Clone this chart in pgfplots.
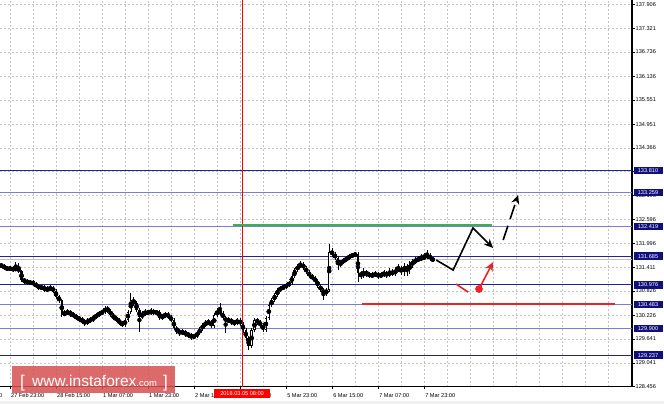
\documentclass[border=0pt]{standalone}
\usepackage{fontspec}
\setmainfont{Liberation Sans}
\usepackage{pgfplots}
\pgfplotsset{compat=1.18}
\usepackage{pgfplotstable}
\usetikzlibrary{arrows.meta}
\definecolor{navyline}{RGB}{35,35,150}
\definecolor{navylight}{RGB}{125,125,205}
\definecolor{navybox}{RGB}{15,15,125}
\definecolor{gridc}{RGB}{195,195,195}
\definecolor{mtgreen}{RGB}{60,175,80}
\definecolor{mtred}{RGB}{235,35,35}
\definecolor{wm}{RGB}{215,80,80}
\definecolor{bidc}{RGB}{192,192,192}

\pgfplotstableread{
k o h l c
1 131.466 131.516 131.392 131.441
2 131.441 131.491 131.342 131.392
3 131.392 131.441 131.318 131.367
4 131.367 131.441 131.318 131.392
5 131.392 131.441 131.293 131.342
6 131.342 131.540 131.318 131.392
7 131.392 131.516 131.268 131.318
8 131.318 131.342 131.045 131.095
9 131.095 131.144 130.996 131.070
10 131.070 131.120 130.971 131.021
11 131.021 131.095 130.971 131.045
12 131.045 131.095 130.946 130.996
13 130.996 131.045 130.897 130.946
14 130.946 130.996 130.848 130.897
15 130.897 130.971 130.848 130.922
16 130.922 130.971 130.798 130.848
17 130.848 130.946 130.798 130.872
18 130.872 130.971 130.823 130.897
19 130.897 130.946 130.773 130.823
20 130.823 130.872 130.625 130.674
21 130.674 130.724 130.526 130.600
22 130.600 130.625 130.180 130.229
23 130.229 130.353 130.204 130.279
24 130.279 130.378 130.229 130.303
25 130.303 130.353 130.180 130.254
26 130.254 130.303 130.155 130.204
27 130.204 130.254 130.105 130.155
28 130.155 130.204 130.056 130.130
29 130.130 130.180 130.006 130.081
30 130.081 130.130 129.957 130.031
31 130.031 130.155 129.982 130.105
32 130.105 130.180 130.031 130.110
33 130.110 130.229 130.056 130.180
34 130.180 130.279 130.130 130.229
35 130.229 130.328 130.180 130.279
36 130.279 130.353 130.229 130.303
37 130.303 130.452 130.254 130.402
38 130.402 130.452 130.279 130.328
39 130.328 130.378 130.180 130.229
40 130.229 130.279 130.105 130.155
41 130.155 130.204 130.056 130.105
42 130.105 130.155 129.982 130.031
43 130.031 130.081 129.932 129.982
44 129.982 130.155 129.932 130.105
45 130.105 130.353 130.056 130.303
46 130.303 130.773 130.254 130.600
47 130.600 130.674 130.452 130.526
48 130.526 130.575 130.303 130.353
49 130.353 130.402 129.808 130.180
50 130.180 130.328 130.130 130.254
51 130.254 130.378 130.204 130.303
52 130.303 130.353 130.229 130.279
53 130.279 130.402 130.229 130.328
54 130.328 130.378 130.229 130.279
55 130.279 130.353 130.229 130.303
56 130.303 130.353 130.105 130.155
57 130.155 130.254 130.105 130.204
58 130.204 130.303 130.155 130.254
59 130.254 130.303 130.130 130.180
60 130.180 130.229 130.056 130.105
61 130.105 130.155 129.858 129.907
62 129.907 129.957 129.759 129.833
63 129.833 129.883 129.709 129.784
64 129.784 129.883 129.734 129.808
65 129.808 129.858 129.685 129.759
66 129.759 129.808 129.660 129.734
67 129.734 129.784 129.611 129.685
68 129.685 129.759 129.635 129.709
69 129.709 129.833 129.660 129.784
70 129.784 129.932 129.734 129.883
71 129.883 130.031 129.833 129.982
72 129.982 130.105 129.932 130.031
73 130.031 130.130 129.982 130.056
74 130.056 130.105 129.907 129.957
75 129.957 130.279 129.907 130.229
76 130.229 130.402 130.180 130.328
77 130.328 130.526 130.229 130.279
78 130.279 130.328 130.105 130.155
79 130.155 130.204 129.784 130.081
80 130.081 130.180 130.031 130.105
81 130.105 130.155 129.982 130.056
82 130.056 130.105 129.957 130.031
83 130.031 130.155 129.982 130.105
84 130.105 130.155 129.957 130.006
85 130.006 130.056 129.784 129.858
86 129.858 129.907 129.586 129.660
87 129.660 129.709 129.363 129.462
88 129.462 129.907 129.413 129.858
89 129.858 130.155 129.808 130.105
90 130.105 130.155 129.982 130.056
91 130.056 130.105 129.907 129.982
92 129.982 130.031 129.808 129.858
93 129.858 130.204 129.808 130.155
94 130.155 130.526 130.105 130.477
95 130.477 130.650 130.427 130.600
96 130.600 130.773 130.551 130.724
97 130.724 130.897 130.674 130.848
98 130.848 130.946 130.798 130.897
99 130.897 130.971 130.848 130.922
100 130.922 131.021 130.872 130.971
101 130.971 131.070 130.922 131.021
102 131.021 131.243 130.971 131.194
103 131.194 131.392 131.144 131.342
104 131.342 131.491 131.293 131.441
105 131.441 131.565 131.392 131.491
106 131.491 131.540 131.342 131.392
107 131.392 131.441 131.243 131.293
108 131.293 131.342 131.144 131.194
109 131.194 131.243 131.095 131.144
110 131.144 131.194 131.021 131.070
111 131.070 131.120 130.897 130.946
112 130.946 130.996 130.798 130.848
113 130.848 130.897 130.600 130.773
114 130.773 130.897 130.699 130.848
115 130.848 131.986 130.798 131.788
116 131.788 131.887 131.664 131.738
117 131.738 131.788 131.590 131.639
118 131.639 131.689 131.342 131.466
119 131.466 131.590 131.417 131.540
120 131.540 131.639 131.491 131.590
121 131.590 131.689 131.540 131.639
122 131.639 131.738 131.590 131.689
123 131.689 131.763 131.639 131.714
124 131.714 131.788 131.664 131.738
125 131.738 131.788 131.045 131.268
126 131.268 131.318 131.120 131.194
127 131.194 131.392 131.144 131.293
128 131.293 131.342 131.169 131.243
129 131.243 131.293 131.144 131.194
130 131.194 131.293 131.144 131.219
131 131.219 131.318 131.169 131.243
132 131.243 131.293 131.120 131.194
133 131.194 131.293 131.144 131.219
134 131.219 131.342 131.169 131.268
135 131.268 131.318 131.144 131.219
136 131.219 131.392 131.169 131.293
137 131.293 131.367 131.194 131.243
138 131.243 131.417 131.194 131.342
139 131.342 131.491 131.293 131.392
140 131.392 131.441 131.219 131.293
141 131.293 131.516 131.194 131.441
142 131.441 131.491 131.194 131.342
143 131.342 131.565 131.243 131.491
144 131.491 131.615 131.392 131.540
145 131.540 131.664 131.491 131.590
146 131.590 131.689 131.540 131.615
147 131.615 131.738 131.565 131.639
148 131.639 131.763 131.590 131.664
149 131.664 131.837 131.615 131.714
150 131.714 131.763 131.565 131.615
151 131.615 131.664 131.540 131.590
}\candles

\newcommand{\tf}{\fontsize{5.6}{6}\selectfont}

\begin{document}
\begin{tikzpicture}[x=1pt,y=1pt]
\useasboundingbox (0pt,0pt) rectangle (664pt,404pt);
\fill[gray!12] (0pt,0pt) rectangle (664pt,3pt);
\begin{axis}[
  at={(0pt,404pt)}, anchor=north west,
  width=632pt, height=386.7pt, scale only axis,
  xmin=0.52, xmax=220.3, ymin=128.456, ymax=138.022,
  axis x line*=bottom, axis y line*=right,
  axis line style={black, line width=1.5pt},
  tick align=outside, major tick length=2.5pt, minor tick length=0pt,
  tick style={black, line width=0.5pt},
  xtick={4,20,36,52,68,84,100,116,132,148},
  xticklabels={27 Feb 23:00,28 Feb 15:00,1 Mar 07:00,1 Mar 23:00,2 Mar 15:00,5 Mar 07:00,5 Mar 23:00,6 Mar 15:00,7 Mar 07:00,7 Mar 23:00},
  minor xtick={12,28,44,60,76,92,108,124,140,156,164,172,180,188,196,204,212,220},
  ytick={128.456,129.041,129.641,130.226,130.826,131.411,131.996,132.596,133.196,133.781,134.366,134.951,135.551,136.136,136.736,137.321,137.906},
  yticklabels={128.456,129.041,129.641,130.226,130.826,131.411,131.996,132.596,133.196,{},134.366,134.951,135.551,136.136,136.736,137.321,137.906},
  xticklabel style={font=\tf, anchor=north west, inner sep=1pt, yshift=-3pt},
  yticklabel style={font=\tf, anchor=west, inner sep=1pt},
  grid=both,
  major grid style={gridc, dash pattern=on 2pt off 2pt, line width=0.5pt},
  minor grid style={gridc, dash pattern=on 2pt off 2pt, line width=0.5pt},
  every axis plot/.append style={forget plot},
]
% level lines
\addplot[navyline, line width=0.9pt] coordinates {(0.52,133.810) (220.3,133.810)};
\addplot[navylight, line width=1.4pt] coordinates {(0.52,133.259) (220.3,133.259)};
\addplot[navylight, line width=1.4pt] coordinates {(0.52,132.419) (220.3,132.419)};
\addplot[navyline, line width=0.9pt] coordinates {(0.52,131.685) (220.3,131.685)};
\addplot[navyline, line width=0.9pt] coordinates {(0.52,130.976) (220.3,130.976)};
\addplot[navylight, line width=1.4pt] coordinates {(0.52,130.483) (220.3,130.483)};
\addplot[navylight, line width=1.4pt] coordinates {(0.52,129.900) (220.3,129.900)};
\addplot[navyline, line width=0.9pt] coordinates {(0.52,129.237) (220.3,129.237)};
% bid line
\addplot[bidc, line width=0.9pt] coordinates {(0.52,131.610) (220.3,131.610)};
% vertical red line
\addplot[red, line width=0.8pt] coordinates {(84.7,128.456) (84.7,138.022)};
% candles: wicks
\addplot[only marks, mark=none, error bars/.cd, y dir=both, y explicit, error mark=none,
  error bar style={black, line width=0.6pt}]
  table[x=k, y expr={(\thisrow{h}+\thisrow{l})/2}, y error expr={(\thisrow{h}-\thisrow{l})/2}] {\candles};
% bodies
\addplot[only marks, mark=none, error bars/.cd, y dir=both, y explicit, error mark=none,
  error bar style={black, line width=2.4pt}]
  table[x=k, y expr={(\thisrow{o}+\thisrow{c})/2}, y error expr={max(abs(\thisrow{o}-\thisrow{c})/2,0.006)}] {\candles};
% bullish interiors
\addplot[only marks, mark=none, error bars/.cd, y dir=both, y explicit, error mark=none,
  error bar style={white, line width=1.0pt}]
  table[x=k, y expr={(\thisrow{o}+\thisrow{c})/2}, y error expr={(\thisrow{c}>\thisrow{o}) ? max((\thisrow{c}-\thisrow{o})/2-0.02,0) : 0}] {\candles};
% green and red levels
\addplot[mtgreen, line width=2.6pt] coordinates {(81.6,132.456) (171.7,132.456)};
\addplot[mtred, line width=2pt] coordinates {(126.4,130.494) (214.4,130.494)};
% black scenario
\addplot[black, line width=1.6pt, -{Stealth[length=9pt,width=8pt]}] coordinates {(152.2,131.590) (158.1,131.342) (165.0,132.381) (172.0,131.887)};
\addplot[black, line width=1.6pt, dash pattern=on 15pt off 7pt, -{Stealth[length=9pt,width=8pt]}] coordinates {(175.5,132.085) (180.7,133.198)};
% red scenario
\addplot[mtred, line width=1.6pt] coordinates {(159.1,130.996) (163.3,130.798)};
\addplot[mtred, line width=1.6pt, -{Stealth[length=9pt,width=8pt]}] coordinates {(167.1,130.872) (172.0,131.540)};
\addplot[only marks, mark=*, mark size=3.6pt, mtred] coordinates {(167.1,130.872)};
% anchors for labels
\coordinate (b1) at (axis cs:220.3,133.810);
\coordinate (b2) at (axis cs:220.3,133.259);
\coordinate (b3) at (axis cs:220.3,132.419);
\coordinate (b4) at (axis cs:220.3,131.685);
\coordinate (b5) at (axis cs:220.3,130.976);
\coordinate (b6) at (axis cs:220.3,130.483);
\coordinate (b7) at (axis cs:220.3,129.900);
\coordinate (b8) at (axis cs:220.3,129.237);
\coordinate (rl) at (axis cs:84.7,128.456);
\coordinate (ll) at (axis cs:0.52,128.456);
\end{axis}
\foreach \n/\t in {b1/133.810,b2/133.259,b3/132.419,b4/131.685,b5/130.976,b6/130.483,b7/129.900,b8/129.237}
  \node[fill=navybox, text=white, font=\tf, inner sep=0pt, anchor=west, minimum height=7.4pt, minimum width=29pt] at ([xshift=1.3pt]\n) {\t};
\node[fill=red, text=white, font=\tf, inner sep=0pt, anchor=north, minimum width=56pt, minimum height=9pt] at ([yshift=-2.3pt]rl) {2018.03.05 08:00};
\node[font=\tf, anchor=north east, inner sep=1pt] at ([xshift=3.5pt, yshift=-5.5pt]ll) {27 Feb 07:00};
% watermark
\fill[wm, opacity=0.85] (12pt,11pt) rectangle (175pt,38pt);
\node[text=white, anchor=base west, inner sep=0pt, font=\fontsize{17}{17}\selectfont] at (20pt,16pt) {[};
\node[text=white, anchor=base west, inner sep=0pt, font=\fontsize{15.5}{15.5}\selectfont] at (32pt,17pt) {www.instaforex{\fontsize{9.5}{9.5}\selectfont.com}};
\node[text=white, anchor=base east, inner sep=0pt, font=\fontsize{17}{17}\selectfont] at (168pt,16pt) {]};
\end{tikzpicture}
\end{document}
